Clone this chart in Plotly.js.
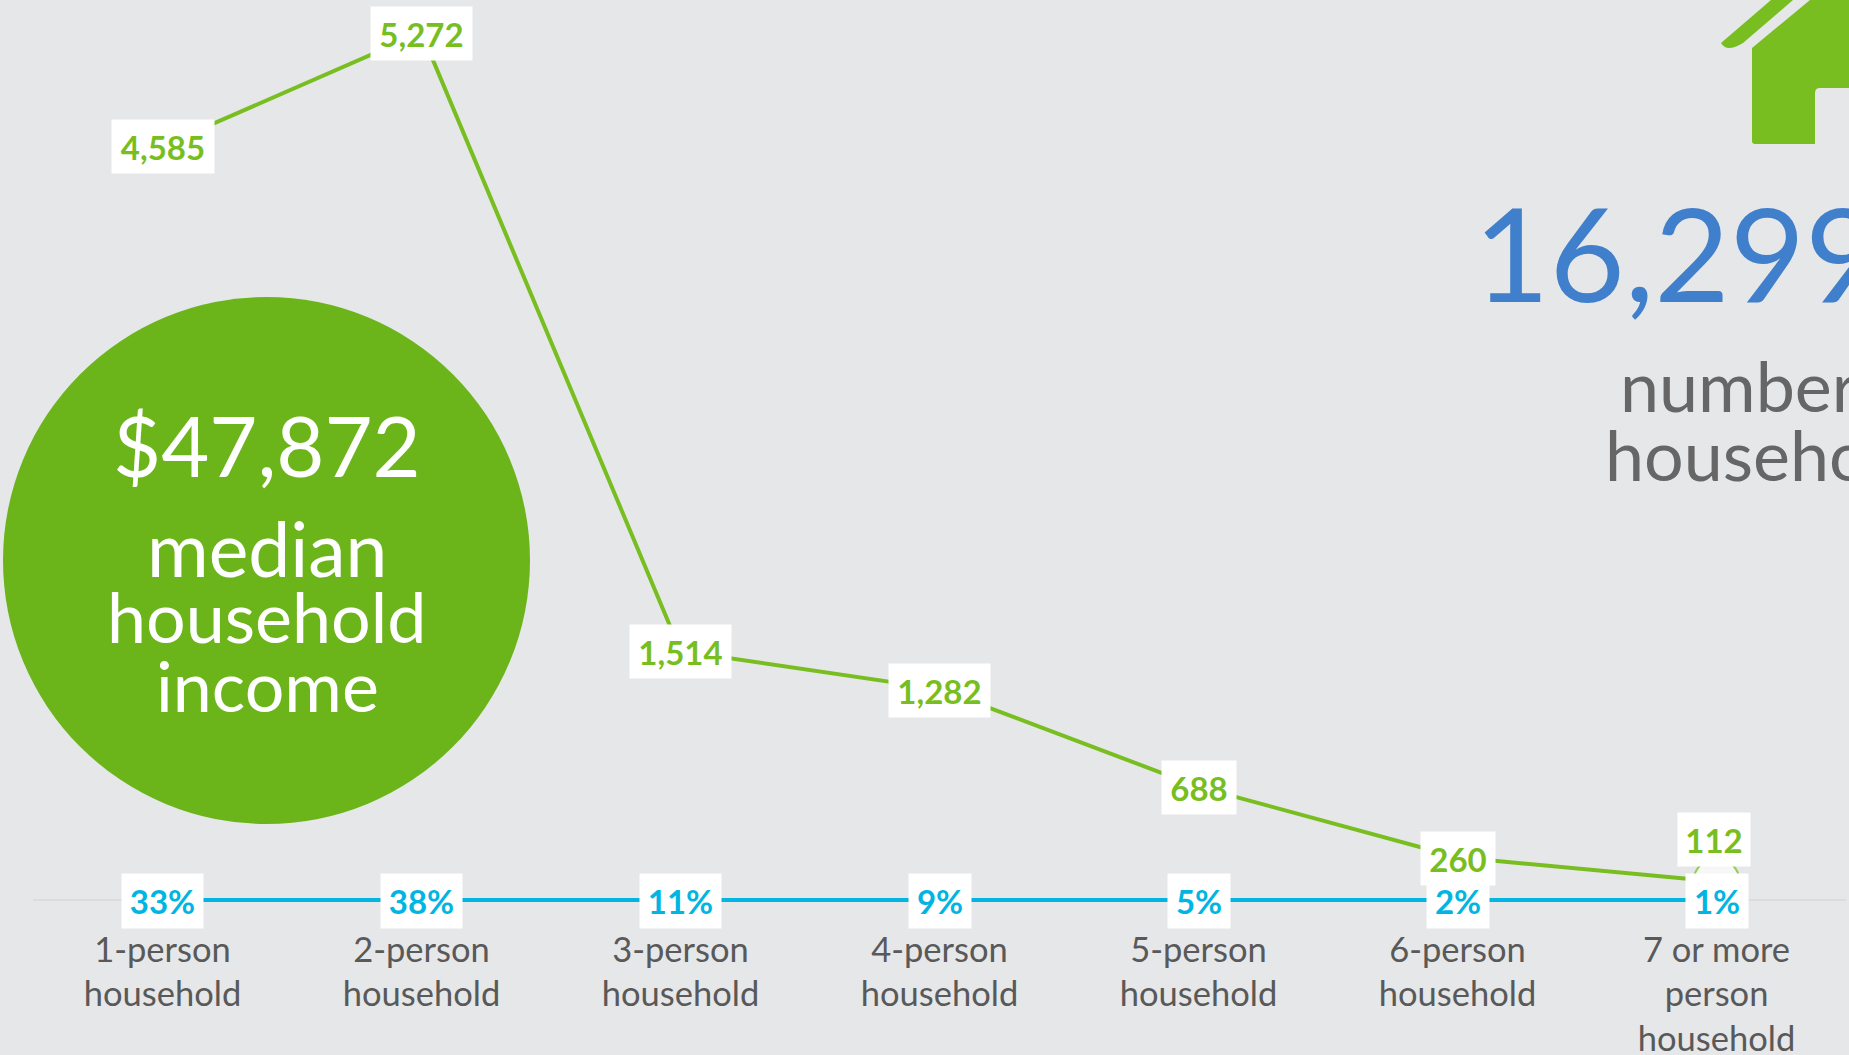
<!DOCTYPE html>
<html><head><meta charset="utf-8">
<script src="https://cdn.plot.ly/plotly-3.0.1.min.js"></script>
<style>html,body{margin:0;padding:0;background:#e6e7e9;overflow:hidden}#c{width:1849px;height:1055px}</style>
</head><body><div id="c"></div>
<script>
const categories = ['1-person<br>household','2-person<br>household','3-person<br>household','4-person<br>household','5-person<br>household','6-person<br>household','7 or more<br>person<br>household'];
const households = [4585,5272,1514,1282,688,260,112];
const shares = [0.33,0.38,0.11,0.09,0.05,0.02,0.01];
const W=1849,H=1055,L=33,R=3,T=0,B=135;
const GREEN='#78be20', BLUE='#00b5e2';
const px=x=>(x-L)/(W-L-R), py=y=>1-(y-T)/(H-T-B);
const path=s=>s.replace(/(-?[\d.]+),(-?[\d.]+)/g,(m,a,b)=>px(+a)+','+py(+b));
const bigFont='Lato';
const labelFont='Lato';
function note(x,y,text,size,color,anchor){return {xref:'paper',yref:'paper',x:px(x),y:py(y),text,showarrow:false,xanchor:anchor||'center',yanchor:'middle',font:{family:bigFont,size,color}};}
const greenBox=households.map((v,i)=>({x:i,y:v,xref:'x',yref:'y',text:'<b>'+v.toLocaleString('en-US')+'</b>',showarrow:false,bgcolor:'#fff',
  font:{family:labelFont,size:33,color:GREEN},width:[100,99,99,99,72,72,70][i],height:51,yshift:[-1,-1,-1,-1,-1,-1,42][i],xshift:[0,0,0,0,0,0,-3][i],valign:'middle'}));
const blueBox=shares.map((v,i)=>({x:i,y:v,xref:'x',yref:'y',text:'<b>'+Math.round(v*100)+'%</b>',showarrow:false,bgcolor:'#fff',
  font:{family:labelFont,size:33,color:BLUE},width:[79,79,79,60,60,60,60][i],height:52,yshift:-1,valign:'middle'}));
const layout={width:W,height:H,margin:{l:L,r:R,t:T,b:B,pad:0},paper_bgcolor:'#e6e7e9',plot_bgcolor:'#e6e7e9',showlegend:false,
 xaxis:{type:'linear',range:[-0.5,6.5],tickmode:'array',tickvals:[0,1,2,3,4,5,6],ticktext:categories,showgrid:false,zeroline:false,showline:false,ticks:'',ticklen:0,tickangle:0,ticklabelstandoff:6,tickfont:{family:labelFont,size:34.5,color:'#595959'}},
 yaxis:{range:[-121.6,5471],visible:false,showgrid:false,zeroline:false},
 shapes:[
  {type:'line',xref:'paper',yref:'y',x0:0,x1:1,y0:0,y1:0,line:{color:'#d9d9d9',width:1.5},layer:'below'},
  {type:'circle',xref:'paper',yref:'paper',x0:px(3),x1:px(530),y0:py(297),y1:py(824),fillcolor:'#6bb51b',line:{width:0},layer:'above'},
  {type:'path',xref:'paper',yref:'paper',path:path('M1752,48 L1810,0 L1849,0 L1849,88 L1820,88 Q1815,88 1815,93 L1815,144 L1755,144 Q1752,144 1752,141 Z'),fillcolor:GREEN,line:{width:0}},
  {type:'path',xref:'paper',yref:'paper',path:path('M1721,43 L1771,0 L1793,0 L1743,43 Q1735,48 1729,48 Q1724,48 1721,43 Z'),fillcolor:GREEN,line:{width:0}}
 ],
 annotations:[...greenBox,...blueBox,
  note(267,445,'$47,872',83,'#fff'),
  note(267,548,'median',75,'#fff'),
  note(267,616,'household',70,'#fff'),
  note(267,685,'income',70,'#fff'),
  note(1472,252,'16,299',130,'#3f7fcc','left'),
  note(1618,385,'number of',70,'#666','left'),
  note(1603,454,'households',70,'#666','left')
 ]};
const traces=[
 {type:'scatter',mode:'lines+markers',x:[0,1,2,3,4,5,6],y:households,line:{color:GREEN,width:4},
  marker:{size:[0,0,0,0,0,0,46],color:'#fff',line:{color:GREEN,width:2}},hoverinfo:'skip'},
 {type:'scatter',mode:'lines',x:[0,1,2,3,4,5,6],y:shares,line:{color:BLUE,width:4},hoverinfo:'skip'}
];
Plotly.newPlot('c',traces,layout,{displayModeBar:false,staticPlot:true});
</script></body></html>
